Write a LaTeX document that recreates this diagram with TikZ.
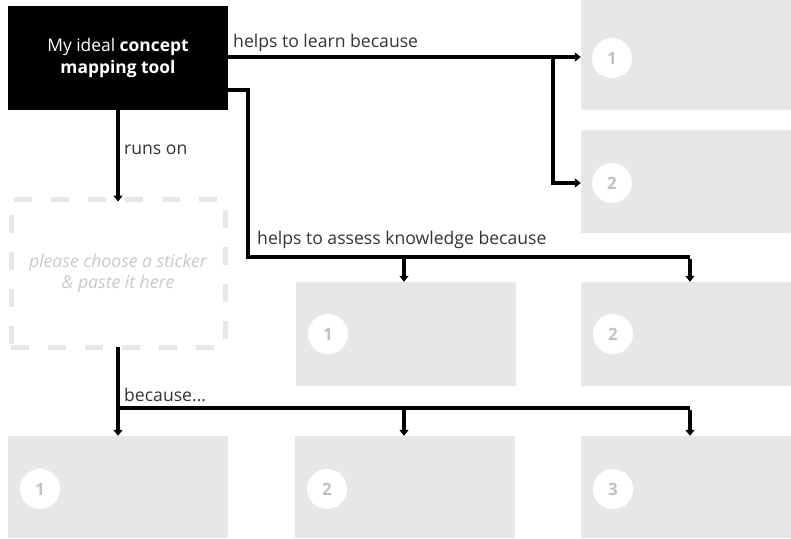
\documentclass[tikz,border=0pt]{standalone}
\usepackage{fontspec}
\setmainfont{Open Sans}
\usetikzlibrary{arrows.meta}
\definecolor{boxgray}{HTML}{E6E7E8}
\definecolor{numgray}{HTML}{C2C2C2}
\definecolor{labelgray}{HTML}{333333}
\definecolor{stickergray}{HTML}{C8C8C8}
\tikzset{
  slot/.style={fill=boxgray, draw=none, inner sep=0pt},
  numdisk/.style={circle, fill=white, minimum size=40pt, inner sep=0pt, text=numgray, font=\fontsize{17}{17}\selectfont\bfseries},
  conn/.style={line width=3.2pt, draw=black},
  arr/.style={conn, -{Triangle[width=9pt,length=6pt]}},
  lbl/.style={anchor=west, inner sep=0pt, text=labelgray, font=\fontsize{17.6}{20}\selectfont},
}
\begin{document}
\begin{tikzpicture}[x=1pt,y=-1pt]
\useasboundingbox (0,0) rectangle (791,538);
% main box
\node[fill=black, minimum width=220pt, minimum height=104pt, inner sep=0pt, text=white, align=center,
  font=\fontsize{17.4}{21.5}\selectfont] (main) at (118,58) {My ideal \textbf{concept}\\\textbf{mapping tool}};
% sticker box
\node[draw=boxgray, line width=5pt, dash pattern=on 18pt off 19pt, minimum width=214pt, minimum height=148pt,
  inner sep=0pt, text=stickergray, align=center, font=\fontsize{17.6}{21}\selectfont\itshape] (stick) at (118,273)
  {please choose a sticker\\\& paste it here};
% slots
\node[slot, minimum width=210pt, minimum height=110pt] (R1) at (686,55) {};
\node[slot, minimum width=210pt, minimum height=103pt] (R2) at (686,181.5) {};
\node[slot, minimum width=220pt, minimum height=104pt] (M1) at (406,334) {};
\node[slot, minimum width=210pt, minimum height=104pt] (M2) at (686,334) {};
\node[slot, minimum width=220pt, minimum height=102pt] (B1) at (118,487) {};
\node[slot, minimum width=220pt, minimum height=102pt] (B2) at (405,487) {};
\node[slot, minimum width=210pt, minimum height=102pt] (B3) at (686,487) {};
% number disks
\node[numdisk] (nR1) at (612,58) {1};
\node[numdisk] (nR2) at (612,183) {2};
\node[numdisk] (nM1) at (328,334) {1};
\node[numdisk] (nM2) at (613,334) {2};
\node[numdisk] (nB1) at (40,489) {1};
\node[numdisk] (nB2) at (327,489) {2};
\node[numdisk] (nB3) at (613,489) {3};
% junctions
\coordinate (j1) at (553,57);
\coordinate (j2a) at (248,90);
\coordinate (j2b) at (248,257);
\coordinate (j2c) at (690,257);
\coordinate (j2m) at (404,257);
\coordinate (j3a) at (118,408);
\coordinate (j3b) at (690,408);
\coordinate (j3m) at (404,408);
% learn
\draw[conn] (main.east |- j1) -- (j1);
\draw[arr] (j1) -- (R1.west |- j1);
\draw[arr] ([yshift=-1.6pt]j1) |- (R2.west |- nR2);
% assess
\draw[conn] (main.east |- j2a) -- (j2a) -- (j2b) -- (j2c);
\draw[arr] ([yshift=-1.6pt]j2c) -- (j2c |- M2.north);
\draw[arr] (j2m) -- (j2m |- M1.north);
% runs on
\draw[arr] (main.south) -- ([yshift=-5pt]stick.north);
% because
\draw[conn] ([yshift=3pt]stick.south) -- (j3a) -- (j3b);
\draw[arr] (j3a) -- (j3a |- B1.north);
\draw[arr] (j3m) -- (j3m |- B2.north);
\draw[arr] ([yshift=-1.6pt]j3b) -- (j3b |- B3.north);
% labels
\node[lbl] (l1) at (233,43) {helps to learn because};
\node[lbl] (l2) at (124,150) {runs on};
\node[lbl] (l3) at (257,240) {helps to assess knowledge because};
\node[lbl] (l4) at (124,395) {because\dots};
\end{tikzpicture}
\end{document}
